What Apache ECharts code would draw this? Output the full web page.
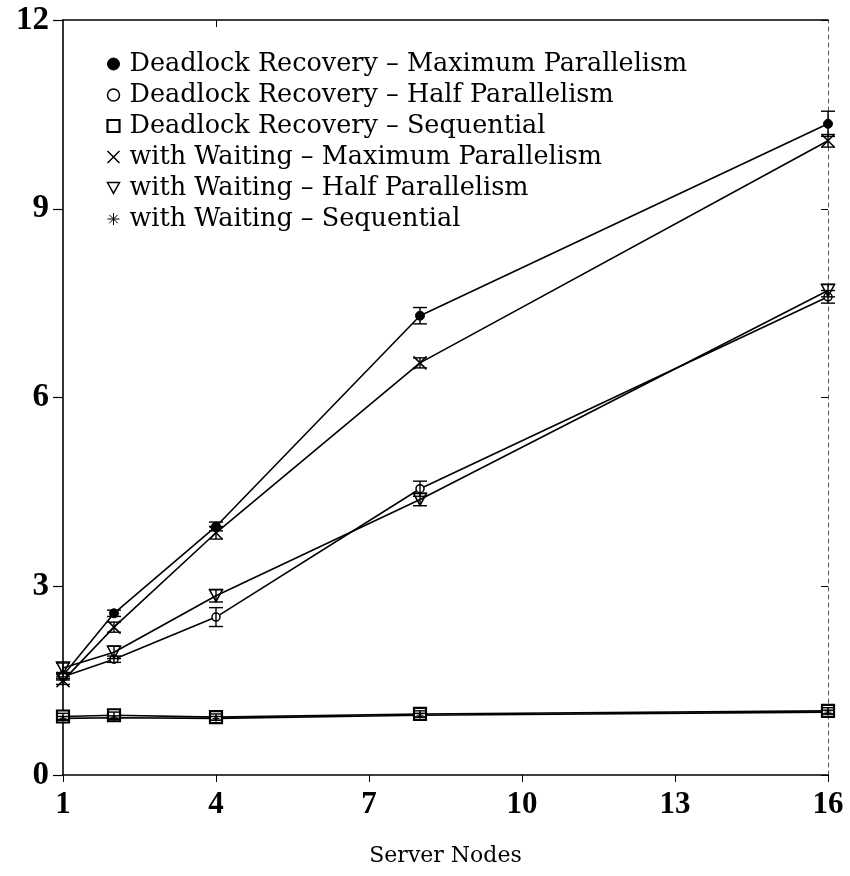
<!DOCTYPE html>
<html>
<head>
<meta charset="utf-8">
<script src="https://cdn.jsdelivr.net/npm/echarts@6/dist/echarts.min.js"></script>
<style>html,body{margin:0;padding:0;background:#fff;}#chart{width:850px;height:876px;}</style>
</head>
<body>
<div id="chart"></div>
<script>
var nodes = [1, 2, 4, 8, 16];
var xTicks = [1, 4, 7, 10, 13, 16];
var yTicks = [0, 3, 6, 9, 12];

var names = [
  'Deadlock Recovery \u2013 Maximum Parallelism',
  'Deadlock Recovery \u2013 Half Parallelism',
  'Deadlock Recovery \u2013 Sequential',
  'with Waiting \u2013 Maximum Parallelism',
  'with Waiting \u2013 Half Parallelism',
  'with Waiting \u2013 Sequential'
];

var drMax  = [1.58, 2.57, 3.95, 7.30, 10.35];
var drHalf = [1.56, 1.84, 2.51, 4.55, 7.60];
var drSeq  = [0.93, 0.95, 0.92, 0.97, 1.02];
var wwMax  = [1.50, 2.35, 3.85, 6.55, 10.08];
var wwHalf = [1.70, 1.95, 2.85, 4.38, 7.70];
var wwSeq  = [0.90, 0.91, 0.90, 0.95, 1.00];

var drMaxErr  = [0.05, 0.05, 0.07, 0.13, 0.20];
var drHalfErr = [0.05, 0.05, 0.15, 0.12, 0.10];
var drSeqErr  = [0.05, 0.05, 0.05, 0.05, 0.05];
var wwMaxErr  = [0.06, 0.08, 0.10, 0.08, 0.10];
var wwHalfErr = [0.08, 0.10, 0.10, 0.10, 0.10];
var wwSeqErr  = [0.03, 0.03, 0.03, 0.03, 0.03];

var values = [drMax, drHalf, drSeq, wwMax, wwHalf, wwSeq];
var errs = [drMaxErr, drHalfErr, drSeqErr, wwMaxErr, wwHalfErr, wwSeqErr];

var circPath = 'path://M10,5A5,5,0,1,1,0,5A5,5,0,1,1,10,5Z';
var rectPath = 'path://M0,0L10,0L10,10L0,10Z';
var crossPath = 'path://M0,0L10,10M10,0L0,10';
var triPath = 'path://M0,0L10,0L5,9Z';
var starPath = 'path://M0,5L10,5M5,0L5,10M1.5,1.5L8.5,8.5M8.5,1.5L1.5,8.5';

var symbols = ['circle', circPath, rectPath, crossPath, triPath, starPath];
var symSizes = [9, 8, 12, 13, [13, 12], 7];
var symStyles = [
  {color: '#000', borderColor: '#000', borderWidth: 1},
  {color: '#fff', borderColor: '#000', borderWidth: 1.5},
  {color: '#fff', borderColor: '#000', borderWidth: 2.2},
  {color: 'none', borderColor: '#000', borderWidth: 1.5},
  {color: 'none', borderColor: '#000', borderWidth: 1.5},
  {color: 'none', borderColor: '#000', borderWidth: 1}
];

var series = [];
values.forEach(function (vals, i) {
  series.push({
    name: names[i],
    type: 'line',
    xAxisIndex: 0, yAxisIndex: 0,
    data: nodes.map(function (n, j) { return [n, vals[j]]; }),
    symbol: symbols[i],
    symbolSize: symSizes[i],
    showAllSymbol: true,
    lineStyle: {color: '#000', width: 1.6},
    itemStyle: symStyles[i],
    z: 3,
    animation: false
  });
});
values.forEach(function (vals, i) {
  series.push({
    type: 'custom',
    xAxisIndex: 0, yAxisIndex: 0,
    data: nodes.map(function (n, j) { return [n, vals[j] - errs[i][j], vals[j] + errs[i][j]]; }),
    renderItem: function (params, api) {
      var lo = api.coord([api.value(0), api.value(1)]);
      var hi = api.coord([api.value(0), api.value(2)]);
      var w = 7;
      var st = {stroke: '#000', lineWidth: 1.4};
      return {type: 'group', children: [
        {type: 'line', shape: {x1: lo[0], y1: lo[1], x2: hi[0], y2: hi[1]}, style: st},
        {type: 'line', shape: {x1: lo[0] - w, y1: lo[1], x2: lo[0] + w, y2: lo[1]}, style: st},
        {type: 'line', shape: {x1: hi[0] - w, y1: hi[1], x2: hi[0] + w, y2: hi[1]}, style: st}
      ]};
    },
    encode: {x: 0, y: [1, 2]},
    z: 4,
    silent: true,
    animation: false
  });
});

var legendData = names.map(function (nm, i) {
  return {name: nm, icon: symbols[i], itemStyle: symStyles[i]};
});

var chart = echarts.init(document.getElementById('chart'), null, {renderer: 'canvas'});
chart.setOption({
  backgroundColor: '#fff',
  animation: false,
  grid: {left: 63, right: 22, top: 20, bottom: 101, containLabel: false},
  legend: {
    orient: 'vertical',
    left: 100, top: 46,
    itemWidth: 12, itemHeight: 12,
    itemGap: 5,
    selectedMode: false,
    data: legendData,
    textStyle: {fontFamily: 'DejaVu Serif', fontSize: 25.5, color: '#000', lineHeight: 26, padding: [0, 0, 0, 5]}
  },
  xAxis: [{
    type: 'value', min: 1, max: 16, interval: 3,
    name: 'Server Nodes', nameLocation: 'middle', nameGap: 70,
    nameTextStyle: {fontFamily: 'DejaVu Serif', fontSize: 22, color: '#000'},
    axisLine: {show: true, onZero: false, lineStyle: {color: '#000', width: 1.6}},
    axisTick: {show: true, length: 7, inside: false, lineStyle: {color: '#000', width: 1}},
    axisLabel: {fontFamily: 'Liberation Serif', fontWeight: 'bold', fontSize: 31, color: '#000', margin: 14},
    splitLine: {show: false}
  }, {
    type: 'value', min: 1, max: 16, position: 'top',
    axisLine: {show: true, onZero: false, lineStyle: {color: '#000', width: 1.6}},
    axisTick: {show: true, inside: true, length: 7, customValues: [4], lineStyle: {color: '#000'}},
    axisLabel: {show: false},
    splitLine: {show: false}
  }],
  yAxis: [{
    type: 'value', min: 0, max: 12, interval: 3,
    axisLine: {show: true, onZero: false, lineStyle: {color: '#000', width: 1.6}},
    axisTick: {show: true, length: 10, lineStyle: {color: '#000', width: 1.2}},
    axisLabel: {fontFamily: 'Liberation Serif', fontWeight: 'bold', fontSize: 33, color: '#000', margin: 14},
    splitLine: {show: false}
  }, {
    type: 'value', min: 0, max: 12, interval: 3, position: 'right',
    axisLine: {show: true, onZero: false, lineStyle: {color: '#555', width: 1, type: [4, 4]}},
    axisTick: {show: true, inside: true, length: 7, lineStyle: {color: '#000'}},
    axisLabel: {show: false},
    splitLine: {show: false}
  }],
  series: series
});
</script>
</body>
</html>
